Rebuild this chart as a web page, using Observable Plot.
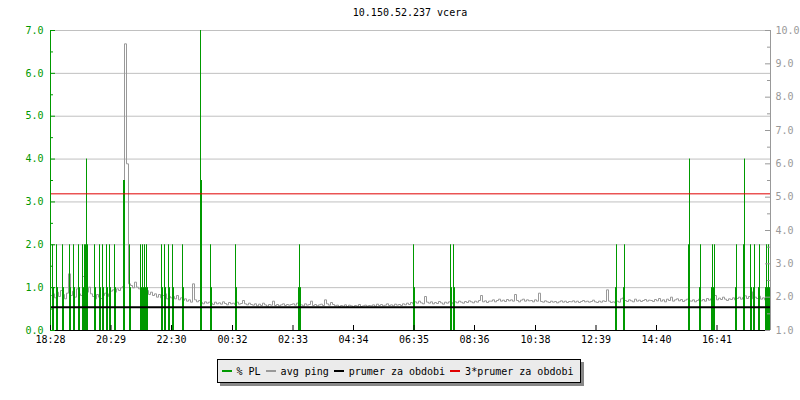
<!DOCTYPE html>
<html><head><meta charset="utf-8">
<script src="https://cdn.jsdelivr.net/npm/d3@7"></script>
<script src="https://cdn.jsdelivr.net/npm/@observablehq/plot@0.6"></script>
<style>
html,body{margin:0;padding:0;background:#fff;}
body{width:800px;height:400px;overflow:hidden;font-family:"DejaVu Sans Mono",monospace;font-size:10px;color:#000;}
#title{box-sizing:border-box;height:22px;padding:8px 30px 0 50px;line-height:10px;text-align:center;}
#chart svg{display:block;}
#legend-wrap{display:flex;justify-content:center;margin-top:7px;padding-right:2px;}
#legend{display:flex;align-items:center;height:22px;padding:0 7px 0 4px;background:#ebebeb;border:1px solid #000;box-shadow:3px 3px 0 #888;}
.item{display:flex;align-items:center;margin-right:5px;white-space:pre;}
.item:last-child{margin-right:0}
.sw{width:10px;height:2px;margin-right:5px;}
</style></head>
<body>
<div id="title">10.150.52.237 vcera</div>
<div id="chart"></div>
<div id="legend-wrap"><div id="legend"></div></div>
<script>
// ---- data ----
const title = "10.150.52.237 vcera";
const xTickLabels = ["18:28","20:29","22:30","00:32","02:33","04:34","06:35","08:36","10:38","12:39","14:40","16:41"];
const startLabel = "18:28";
const spanMinutes = 1440;
const leftTicks = [0,1,2,3,4,5,6,7];
const leftMinor = [0.5,1.5,2.5,3.5,4.5,5.5,6.5];
const rightTicks = [1,2,3,4,5,6,7,8,9,10];
const rightMinor = [1.5,2.5,3.5,4.5,5.5,6.5,7.5,8.5,9.5];
const legendLabels = ["% PL","avg ping","prumer za obdobi","3*prumer za obdobi"];

// packet loss samples (minutes after start, % PL)
const plMinutes = [4,6, 12,14, 24,26, 38,40, 46,48, 56,58, 64,66, 68,70,72,74, 88,90, 98,100, 104,106, 112,114, 118,120, 128,130,
  146,148, 158,160, 180,182, 184,186, 188,190, 192,194, 222,224, 228,230, 236,238, 244,246, 264,266, 300,302, 320,322, 370,372,
  496,498,500, 726,728, 800,802, 806,808, 1130,1132, 1146,1148, 1276,1278, 1298,1300, 1322,1324,1326,1328, 1370,1372, 1386,1388,
  1400,1402, 1406,1408, 1416,1418, 1430,1432,1434,1436,1438];
const plValues = [2,1, 2,1, 2,1, 2,1, 2,1, 2,1, 2,1, 2,2,4,2, 2,1, 2,1, 2,1, 2,1, 2,1, 2,1,
  3.5,3.5, 2,1, 2,1, 2,1, 2,1, 2,1, 2,1, 2,1, 2,1, 2,1, 2,1, 7,3.5, 2,1, 2,1,
  1,2,1, 2,1, 2,1, 2,1, 1,2, 1,2, 2,4, 1,2, 1,2,1,2, 1,2, 2,4,
  2,1, 1,2, 1,2, 1,2,1,2,1];

// avg ping (ms), one sample every 4 minutes from 18:28
const pingStepMin = 4;
const pingValues = [
  2.05,2.10,1.98,2.15,2.02,2.20,2.08,1.95,2.12,2.70,2.05,2.18,2.00,2.25,2.10,2.05,2.62,3.10,2.15,2.30,
  2.10,2.02,1.95,2.08,2.00,1.96,2.05,2.12,2.02,2.10,2.18,2.22,2.15,2.25,2.20,2.28,2.32,9.60,6.00,2.40,
  2.35,2.28,2.45,2.30,2.25,2.18,2.22,2.12,2.20,2.08,2.15,2.05,2.10,2.00,2.08,1.98,2.05,2.10,1.95,2.02,
  1.98,2.02,1.95,2.05,1.92,1.98,1.90,1.95,1.88,1.92,1.85,2.40,1.92,1.86,1.90,1.84,1.80,1.86,1.82,1.85,
  1.82,1.78,1.85,1.80,1.83,1.79,1.86,1.81,1.77,1.84,1.80,1.82,1.78,1.85,1.79,1.81,1.90,1.80,1.77,1.82,
  1.78,1.76,1.80,1.74,1.79,1.75,1.82,1.77,1.73,1.78,1.76,1.88,1.75,1.78,1.74,1.77,1.80,1.75,1.78,1.76,
  1.78,1.80,1.76,1.82,1.79,1.77,1.74,1.80,1.76,1.78,1.88,1.75,1.78,1.74,1.77,1.79,1.75,1.92,1.80,1.76,
  1.84,1.78,1.74,1.76,1.72,1.75,1.73,1.77,1.72,1.76,1.74,1.71,1.75,1.73,1.78,1.72,1.74,1.76,1.73,1.75,
  1.74,1.77,1.73,1.79,1.75,1.78,1.74,1.76,1.80,1.75,1.77,1.74,1.79,1.76,1.78,1.75,1.80,1.77,1.82,1.78,
  1.84,1.80,1.86,1.82,1.88,1.83,1.80,2.02,1.85,1.82,1.86,1.80,1.84,1.81,1.87,1.83,1.79,1.85,1.82,1.86,
  1.84,1.80,1.86,1.83,1.88,1.85,1.82,1.87,1.84,1.89,1.86,1.83,1.88,1.85,1.90,2.05,1.86,1.89,1.84,1.88,
  1.88,1.92,1.86,1.90,1.94,1.88,1.91,1.87,1.93,1.89,1.92,1.88,2.08,1.90,1.86,1.91,1.94,1.88,1.92,1.89,
  1.90,1.86,1.92,1.88,2.12,1.87,1.85,1.89,1.86,1.84,1.88,1.85,1.87,1.83,1.86,1.89,1.85,1.88,1.84,1.87,
  1.86,1.89,1.85,1.88,1.84,1.87,1.90,1.86,1.88,1.85,1.87,1.91,1.86,1.84,1.88,1.85,1.89,1.87,2.22,1.88,
  1.84,1.86,1.83,1.88,1.85,1.95,1.98,1.90,1.87,1.92,1.89,1.86,1.94,1.88,1.91,1.87,1.90,1.93,1.88,1.91,
  1.90,1.87,1.93,1.89,1.96,1.88,1.92,1.86,1.94,1.90,2.00,1.88,1.92,1.95,1.89,1.93,1.87,1.91,1.94,1.89,
  1.88,1.92,1.86,1.90,1.94,1.89,1.93,1.88,1.96,1.91,1.95,1.98,2.05,1.92,1.97,1.93,2.00,1.94,1.90,1.95,
  1.93,1.98,1.92,1.96,2.00,1.94,1.99,2.04,1.96,2.02,1.95,2.16,2.00,1.96,2.03,1.94,1.98,1.92,1.97,1.94,1.96
];
const meanPing = 1.70;

// ---- build ----
const green = "#009900", grayC = "#999999", redC = "#e00000", gridC = "#c0c0c0";
const toLeft = v => (v - 1) * 7 / 9;          // right axis (1..10) -> left axis units (0..7)
const fromLeft = d => d * 9 / 7 + 1;
const ping = pingValues.map((v, i) => ({t: i * pingStepMin, v: toLeft(v)}));
const pl = plMinutes.map((t, i) => ({t, v: plValues[i]}));
const toMin = s => { const [h, m] = s.split(":").map(Number); return h * 60 + m; };
const start = toMin(startLabel);
const xTicks = xTickLabels.map(s => (toMin(s) - start + 1440) % 1440);
const labelOf = new Map(xTicks.map((t, i) => [t, xTickLabels[i]]));
const plotH = 300;

document.getElementById("title").textContent = title;

const chart = Plot.plot({
  width: 800, height: 330,
  marginTop: 8, marginBottom: 22, marginLeft: 50, marginRight: 30,
  style: {fontFamily: '"DejaVu Sans Mono", monospace', fontSize: "10px", background: "white"},
  x: {domain: [0, spanMinutes]},
  y: {domain: [0, 7]},
  marks: [
    Plot.ruleY(leftTicks.filter(d => d > 0), {stroke: gridC}),
    Plot.line(ping, {x: "t", y: "v", stroke: grayC, strokeWidth: 1, curve: "step-after"}),
    Plot.ruleX(pl, {x: "t", y1: 0, y2: "v", stroke: green}),
    Plot.ruleY([toLeft(meanPing)], {stroke: "#000", strokeWidth: 2}),
    Plot.ruleY([toLeft(3 * meanPing)], {stroke: redC}),
    Plot.ruleX([0], {stroke: green}),
    Plot.ruleX([spanMinutes], {stroke: grayC}),
    Plot.ruleY([0], {stroke: "#000"}),
    Plot.ruleY(leftTicks, {x1: 0, x2: 10, stroke: green}),
    Plot.ruleY(leftMinor, {x1: 0, x2: 6, stroke: green}),
    Plot.ruleY(rightTicks.map(toLeft), {x1: spanMinutes - 10, x2: spanMinutes, stroke: grayC}),
    Plot.ruleY(rightMinor.map(toLeft), {x1: spanMinutes - 6, x2: spanMinutes, stroke: grayC}),
    Plot.ruleX(xTicks, {y1: 0, y2: 5 * 7 / plotH, stroke: "#000"}),
    Plot.axisX(xTicks, {tickFormat: d => labelOf.get(d), tickSize: 0, tickPadding: 5, label: null, fill: "#000"}),
    Plot.axisY(leftTicks, {tickFormat: d => d.toFixed(1), tickSize: 0, tickPadding: 7, label: null, fill: green}),
    Plot.axisY(rightTicks.map(toLeft), {anchor: "right", tickFormat: d => fromLeft(d).toFixed(1), tickSize: 0, tickPadding: 5, label: null, fill: grayC})
  ]
});
document.getElementById("chart").appendChild(chart);

const legendColors = [green, grayC, "#000", redC];
const legend = document.getElementById("legend");
legendLabels.forEach((lab, i) => {
  const it = document.createElement("div");
  it.className = "item";
  const sw = document.createElement("span");
  sw.className = "sw";
  sw.style.background = legendColors[i];
  const tx = document.createElement("span");
  tx.textContent = lab;
  it.appendChild(sw); it.appendChild(tx);
  legend.appendChild(it);
});
</script>
</body></html>
